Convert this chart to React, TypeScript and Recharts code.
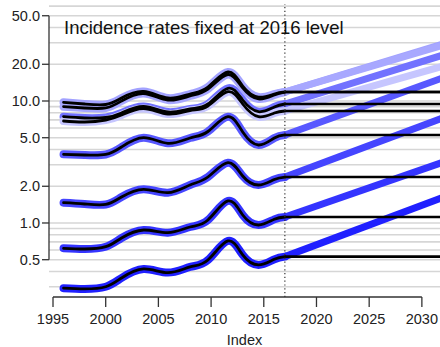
import React from "react";
import { LineChart, Line, XAxis, YAxis, ReferenceLine } from "recharts";

// observed years (last one is the year rates are fixed from)
const histYears = [1996, 1998, 2000, 2001.5, 2003.6, 2005.9, 2008, 2009.7, 2011.6, 2013, 2014.5, 2016, 2017];

// series, bottom to top
const s1 = [0.292, 0.288, 0.3, 0.354, 0.42, 0.392, 0.436, 0.497, 0.712, 0.547, 0.453, 0.504, 0.53];
const s2 = [0.62, 0.612, 0.639, 0.753, 0.876, 0.833, 0.927, 1.058, 1.515, 1.163, 0.963, 1.072, 1.12];
const s3 = [1.466, 1.431, 1.418, 1.633, 1.889, 1.772, 2.049, 2.382, 3.121, 2.428, 2.049, 2.273, 2.38];
const s4 = [3.657, 3.61, 3.644, 4.198, 5.003, 4.501, 4.974, 5.623, 7.433, 5.571, 4.358, 4.974, 5.27];
const s5 = [7.433, 7.254, 7.323, 7.972, 9.014, 8.123, 8.598, 9.45, 12.71, 10.19, 8.17, 8.93, 9.45];
const s6 = [6.855, 6.727, 6.986, 7.677, 8.68, 7.823, 8.357, 9.1, 11.92, 9.45, 7.433, 7.972, 8.28];
const s7 = [9.757, 9.45, 9.361, 10.58, 11.96, 10.58, 11.41, 13.02, 17.29, 13.27, 10.78, 11.41, 11.85];
const s8 = [8.982, 8.764, 8.764, 10.0, 11.52, 10.19, 10.99, 12.54, 16.49, 12.78, 10.39, 11.2, 11.85];
const series = [s1, s2, s3, s4, s5, s6, s7, s8];

// projected values at the end year
const projYear = 2032;
const projEnd = [1.62, 3.15, 7.27, 15.5, 23.8, 19.3, 29.3, 28.6];
const colors = ["#2020ff", "#3434ff", "#4545ff", "#5858ff", "#7272ff", "#c6c6ff", "#a2a2ff", "#a8a8ff"];

const yTicks = [0.5, 1, 2, 5, 10, 20, 50];
const xTicks = [1995, 2000, 2005, 2010, 2015, 2020, 2025, 2030];
const gridValues = [0.3, 0.4, 0.5, 0.6, 0.7, 0.8, 0.9, 1, 2, 3, 4, 5, 6, 7, 8, 9, 10, 20, 30, 40, 50, 60];

const xMin = 1994.62;
const xMax = 2031.72;
const yMin = 0.2473;
const yMax = 62.4;
const fixYear = 2017;

const font = "'Liberation Sans', Arial, sans-serif";

export default function App() {
  const hist = series.map((s) => histYears.map((x, j) => ({ x, y: s[j] })));
  const proj = series.map((s, i) => [
    { x: fixYear, y: s[s.length - 1] },
    { x: projYear, y: projEnd[i] },
  ]);
  const flat = series.map((s) => [
    { x: fixYear, y: s[s.length - 1] },
    { x: projYear, y: s[s.length - 1] },
  ]);

  return (
    <div style={{ position: "absolute", left: 0, top: 0, width: 440, height: 347, background: "#fff" }}>
      <LineChart width={440} height={347} margin={{ top: 4, right: 0, bottom: 0, left: 0 }}>
        {gridValues.map((v) => (
          <ReferenceLine key={"g" + v} y={v} stroke="#d6d6d6" strokeWidth={1.6} zIndex={-10} />
        ))}
        <XAxis
          dataKey="x"
          type="number"
          domain={[xMin, xMax]}
          allowDataOverflow
          ticks={xTicks}
          height={50}
          tickSize={10}
          tickMargin={7}
          axisLine={false}
          tickLine={{ stroke: "#333", strokeWidth: 1.3 }}
          tick={{ fill: "#222", fontSize: 14.5, fontFamily: font }}
          label={{ value: "Index", position: "insideBottom", offset: 2.5, fill: "#222", fontSize: 14.5, fontFamily: font }}
        />
        <YAxis
          dataKey="y"
          type="number"
          scale="log"
          domain={[yMin, yMax]}
          allowDataOverflow
          ticks={yTicks}
          width={49}
          tickSize={7}
          tickMargin={2}
          axisLine={false}
          tickLine={{ stroke: "#333", strokeWidth: 1.3 }}
          tickFormatter={(v: number) => v.toFixed(1)}
          tick={{ fill: "#222", fontSize: 14.5, fontFamily: font }}
        />
        <ReferenceLine
          segment={[{ x: 1995, y: yMin }, { x: 2030, y: yMin }]}
          stroke="#333"
          strokeWidth={1.3}
          ifOverflow="visible"
        />
        <ReferenceLine
          segment={[{ x: xMin, y: 0.5 }, { x: xMin, y: 50 }]}
          stroke="#333"
          strokeWidth={1.3}
          ifOverflow="visible"
        />
        {hist.map((d, i) => (
          <Line key={"hb" + i} data={d} dataKey="y" type="natural" stroke={colors[i]} strokeWidth={8}
            strokeLinecap="round" dot={false} activeDot={false} isAnimationActive={false} />
        ))}
        {proj.map((d, i) => (
          <Line key={"pb" + i} data={d} dataKey="y" type="linear" stroke={colors[i]} strokeWidth={7}
            dot={false} activeDot={false} isAnimationActive={false} />
        ))}
        {hist.map((d, i) => (
          <Line key={"hk" + i} data={d} dataKey="y" type="natural" stroke="#000" strokeWidth={2.8}
            strokeLinecap="round" dot={false} activeDot={false} isAnimationActive={false} />
        ))}
        {flat.map((d, i) => (
          <Line key={"fk" + i} data={d} dataKey="y" type="linear" stroke="#000" strokeWidth={2.6}
            dot={false} activeDot={false} isAnimationActive={false} />
        ))}
        <ReferenceLine x={fixYear} stroke="#333" strokeWidth={1.2} strokeDasharray="1.2 2.6" />
      </LineChart>
      <svg width={440} height={347} style={{ position: "absolute", left: 0, top: 0, pointerEvents: "none" }}>
        <text x={64} y={34} fontSize={18.5} fontFamily={font} fill="#111">
          Incidence rates fixed at 2016 level
        </text>
      </svg>
    </div>
  );
}
